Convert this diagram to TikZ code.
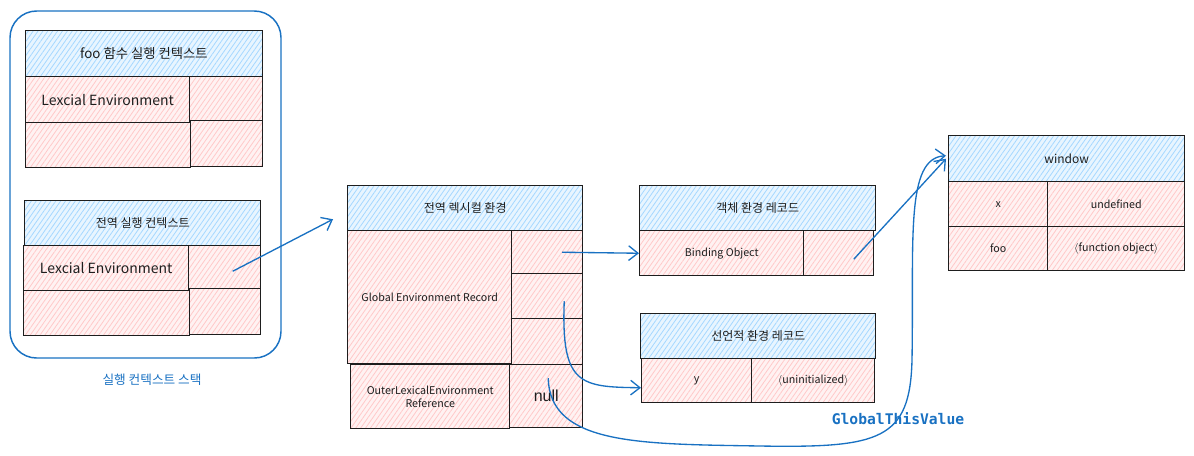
\documentclass[tikz,border=0pt]{standalone}
\usepackage{fontspec}
\setmainfont{Noto Sans CJK KR}
\newfontfamily\nullcellfont{Liberation Sans}
\newfontfamily\codefont{DejaVu Sans Mono}
\usetikzlibrary{patterns.meta,arrows.meta}
\definecolor{ink}{HTML}{1E1E1E}
\definecolor{hblue}{HTML}{A5D8FF}
\definecolor{hred}{HTML}{FFC9C9}
\definecolor{aBlue}{HTML}{1971C2}
\newcommand\mkbox[7]{\node[#2, anchor=north west, minimum width={(#5-#3)*0.75pt}, minimum height={(#6-#4)*0.75pt}] (#1) at (#3,#4) {#7};}
\tikzset{
  cellbase/.style={draw=ink, line width=1.1pt, inner sep=0pt, text=ink, align=center},
  hdr/.style={cellbase, preaction={fill=hblue!25}, pattern={Lines[angle=55,distance=3pt,line width=0.6pt]}, pattern color=hblue, font=\fontsize{9}{11}\selectfont},
  cel/.style={cellbase, preaction={fill=hred!25}, pattern={Lines[angle=55,distance=3pt,line width=0.6pt]}, pattern color=hred, font=\fontsize{8}{10}\selectfont},
  bigtxt/.style={font=\fontsize{10.5}{12}\selectfont},
  link/.style={draw=aBlue, line width=1pt, -{Straight Barb[length=7pt,width=11pt]}},
  bluetxt/.style={text=aBlue}
}
\begin{document}
\begin{tikzpicture}[x=0.75pt,y=-0.75pt]
\useasboundingbox (0,0) rectangle (1194,455);
% execution context stack
\draw[draw=aBlue, line width=1.1pt, rounded corners=20pt] (10,11) rectangle (281,358);
\node[bluetxt, font=\fontsize{9.5}{11}\selectfont] (stacklbl) at (152,380) {실행 컨텍스트 스택};
% foo context
\mkbox{fooh}{hdr, font=\fontsize{10}{12}\selectfont}{25}{30}{262}{76}{foo 함수 실행 컨텍스트}
\mkbox{fooa}{cel, bigtxt}{25}{76}{189}{122}{Lexcial Environment}
\mkbox{foob}{cel}{189}{76}{262}{120}{}
\mkbox{fooc}{cel}{25}{122}{190}{167}{}
\mkbox{food}{cel}{190}{120}{262}{166}{}
% global context
\mkbox{glh}{hdr}{24}{200}{260}{245}{전역 실행 컨텍스트}
\mkbox{gla}{cel, bigtxt}{23}{245}{188}{290}{Lexcial Environment}
\mkbox{glb}{cel}{188}{245}{260}{288}{}
\mkbox{glc}{cel}{23}{290}{189}{335}{}
\mkbox{gld}{cel}{189}{288}{260}{334}{}
% global lexical environment
\mkbox{lexh}{hdr}{347}{185}{582}{230}{전역 렉시컬 환경}
\mkbox{ger}{cel}{347}{230}{511}{363}{Global Environment Record}
\mkbox{lr1}{cel}{511}{230}{582}{273}{}
\mkbox{lr2}{cel}{511}{273}{582}{318}{}
\mkbox{lr3}{cel}{511}{318}{582}{364}{}
\mkbox{ore}{cel}{350}{364}{509}{428}{OuterLexicalEnvironment\\Reference}
\mkbox{nullc}{cel, font=\nullcellfont\fontsize{12}{14}\selectfont}{509}{364}{582}{427}{null}
% object environment record
\mkbox{objh}{hdr}{639}{185}{875}{230}{객체 환경 레코드}
\mkbox{bind}{cel}{639}{230}{803}{275}{Binding Object}
\mkbox{bindv}{cel}{803}{230}{873}{275}{}
% declarative environment record
\mkbox{dech}{hdr}{640}{313}{875}{358}{선언적 환경 레코드}
\mkbox{ycell}{cel}{641}{358}{751}{402}{y}
\mkbox{yval}{cel}{751}{358}{874}{402}{$\langle$uninitialized$\rangle$}
% window
\mkbox{winh}{hdr}{948}{135}{1184}{181}{window}
\mkbox{xk}{cel}{948}{181}{1047}{226}{x}
\mkbox{xv}{cel}{1047}{181}{1184}{226}{undefined}
\mkbox{fk}{cel}{948}{226}{1047}{270}{foo}
\mkbox{fv}{cel}{1047}{226}{1184}{270}{$\langle$function object$\rangle$}
% connectors
\draw[link] ([shift={(8,4)}]glb.center) -- ([shift={(-14,11)}]lexh.west);
\draw[link] ([shift={(15,0)}]lr1.center) -- (bind.west);
\draw[link] ([shift={(17,5)}]lr2.center) .. controls (561,385) and (580,387) .. ([shift={(0,7)}]ycell.west);
\draw[link] ([shift={(15,6)}]bindv.center) -- ([shift={(-2,0)}]winh.west);
\draw[link] ([shift={(2,-18)}]nullc.center) .. controls (550,445) and (640,444) .. (760,446) .. controls (880,448) and (910,440) .. (912,360) .. controls (914,240) and (905,158) .. ([shift={(-2,-3)}]winh.west);
\node[bluetxt, font=\codefont\bfseries\fontsize{11}{13}\selectfont] (gtv) at (898,419) {GlobalThisValue};
\end{tikzpicture}
\end{document}
